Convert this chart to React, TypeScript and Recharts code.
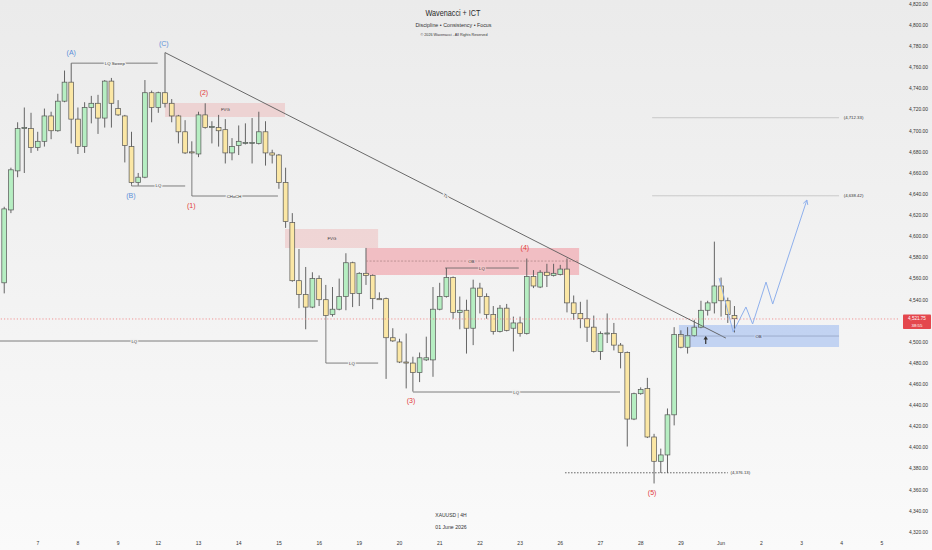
import React from 'react';
import {
  ComposedChart,
  Bar,
  Line,
  XAxis,
  YAxis,
  ReferenceLine,
  ReferenceArea,
  ReferenceDot,
} from 'recharts';

// ---------- data (XAUUSD 4H candles) ----------
const OPEN = [
  4556, 4625, 4662, 4702, 4702, 4684, 4690, 4714, 4700, 4728,
  4746, 4711, 4685, 4722, 4726, 4712, 4747, 4721, 4714, 4685,
  4651, 4656, 4736, 4722, 4736, 4726, 4714, 4699, 4680, 4678,
  4715, 4703, 4703, 4701, 4679, 4686, 4688, 4688, 4688, 4699,
  4679, 4677, 4651, 4613, 4558, 4545, 4533, 4560, 4540, 4526,
  4531, 4543, 4575, 4546, 4565, 4563, 4541, 4541, 4504, 4500,
  4481, 4480, 4471, 4483, 4483, 4531, 4543, 4561, 4528, 4530,
  4513, 4551, 4543, 4526, 4510, 4532, 4513, 4518, 4508, 4562,
  4552, 4566, 4563, 4564, 4569, 4537, 4527, 4522, 4514, 4491,
  4508, 4508, 4497, 4490, 4427, 4451, 4456, 4410, 4387, 4393,
  4431, 4507, 4495, 4506, 4514, 4530, 4537, 4553, 4539, 4525,
];
const HIGH = [
  4628, 4665, 4708, 4722, 4717, 4699, 4721, 4718, 4735, 4757,
  4764, 4722, 4727, 4733, 4734, 4748, 4750, 4729, 4715, 4699,
  4660, 4748, 4738, 4737, 4774, 4730, 4715, 4710, 4690, 4718,
  4726, 4709, 4715, 4711, 4693, 4705, 4707, 4712, 4718, 4709,
  4682, 4678, 4665, 4622, 4588, 4571, 4566, 4563, 4554, 4552,
  4560, 4584, 4576, 4566, 4589, 4564, 4547, 4542, 4513, 4503,
  4508, 4486, 4490, 4505, 4552, 4556, 4570, 4562, 4543, 4540,
  4559, 4556, 4546, 4534, 4535, 4536, 4524, 4524, 4579, 4568,
  4568, 4574, 4574, 4573, 4579, 4544, 4538, 4540, 4525, 4510,
  4527, 4518, 4499, 4491, 4452, 4457, 4466, 4413, 4399, 4437,
  4514, 4511, 4514, 4521, 4539, 4539, 4595, 4561, 4542, 4534,
];
const LOW = [
  4546, 4622, 4656, 4660, 4679, 4681, 4685, 4692, 4699, 4727,
  4688, 4678, 4679, 4707, 4697, 4703, 4703, 4714, 4670, 4649,
  4648, 4655, 4708, 4717, 4722, 4708, 4688, 4678, 4678, 4675,
  4702, 4688, 4685, 4669, 4672, 4677, 4687, 4669, 4687, 4667,
  4669, 4645, 4608, 4557, 4532, 4512, 4532, 4534, 4524, 4524,
  4530, 4530, 4533, 4534, 4554, 4531, 4540, 4465, 4500, 4480,
  4456, 4453, 4462, 4482, 4467, 4530, 4542, 4522, 4512, 4489,
  4497, 4527, 4522, 4507, 4509, 4510, 4491, 4505, 4507, 4551,
  4551, 4552, 4562, 4563, 4528, 4521, 4513, 4500, 4490, 4483,
  4499, 4492, 4475, 4401, 4426, 4450, 4409, 4366, 4376, 4376,
  4421, 4494, 4489, 4505, 4513, 4525, 4527, 4524, 4518, 4509,
];
const CLOSE = [
  4626, 4663, 4702, 4703, 4684, 4690, 4714, 4700, 4728, 4746,
  4711, 4685, 4722, 4726, 4712, 4747, 4726, 4715, 4686, 4651,
  4656, 4736, 4722, 4736, 4726, 4714, 4699, 4679, 4679, 4715,
  4703, 4704, 4700, 4679, 4685, 4690, 4689, 4689, 4699, 4679,
  4677, 4651, 4614, 4558, 4545, 4533, 4560, 4540, 4525, 4531,
  4543, 4575, 4546, 4565, 4563, 4541, 4540, 4504, 4501, 4481,
  4480, 4471, 4485, 4485, 4531, 4543, 4561, 4528, 4530, 4513,
  4551, 4543, 4526, 4510, 4532, 4511, 4518, 4508, 4562, 4553,
  4566, 4563, 4565, 4569, 4537, 4527, 4522, 4514, 4491, 4508,
  4508.5, 4497, 4490, 4427, 4451, 4455, 4410, 4387, 4393, 4431,
  4507, 4495, 4506, 4514, 4530, 4537, 4553, 4539, 4526, 4522,
];

// day boundaries (bar index of first 4H bar of each day) and their labels
const DAY_TICKS = [5, 11, 17, 23, 29, 35, 41, 47, 53, 59, 65, 71, 77, 83, 89, 95, 101, 107, 113, 119, 125, 131];
const DAY_LABELS = ['7', '8', '9', '12', '13', '14', '15', '16', '19', '20', '21', '22', '23', '26', '27', '28', '29', 'Jun', '2', '3', '4', '5'];

// price scale labels (4,520 is covered by the last-price tag)
const PRICE_TICKS = [
  4320, 4340, 4360, 4380, 4400, 4420, 4440, 4460, 4480, 4500, 4540, 4560,
  4580, 4600, 4620, 4640, 4660, 4680, 4700, 4720, 4740, 4760, 4780, 4800, 4820,
];

// projected path (blue zig-zag)
const PROJ_X = [106.7, 108.8, 110.7, 111.7, 113.7, 114.7, 119.8];
const PROJ_P = [4560.5, 4509.4, 4533.1, 4517.0, 4556.7, 4535.9, 4634.4];

const LAST_PRICE = 4521.75;
const COUNTDOWN = '38:55';
const SWING_LOW = 4376.13;
const TARGET_HIGH = 4712.33;
const TARGET_MID = 4638.42;

// ---------- layout ----------
const W = 932;
const H = 550;
const AXIS_W = 34;
const AXIS_H = 15;
const X_MIN = -0.64;
const X_MAX = 133.4;
const Y_MIN = 4317.2;
const Y_MAX = 4823.8;
const PX_PER_I = (W - AXIS_W) / (X_MAX - X_MIN);
const PX_PER_P = (H - AXIS_H) / (Y_MAX - Y_MIN);

const FONT = '"Liberation Sans", Arial, sans-serif';
const BG = '#f1f1f1';
const WICK = '#555555';
const UP_FILL = '#b6eec2';
const DOWN_FILL = '#fbe7a5';
const LINE = '#606060';
const BLUE_TXT = '#5b8fd9';
const RED_TXT = '#e23b3b';
const PROJ = '#8fb0ec';

const rows = OPEN.map((o, i) => ({
  i,
  o,
  h: HIGH[i],
  l: LOW[i],
  c: CLOSE[i],
  range: [LOW[i], HIGH[i]],
}));
const projRows = PROJ_X.map((x, j) => ({ i: x, p: PROJ_P[j] }));

const fmtPrice = (v: number) =>
  v.toLocaleString('en-US', { minimumFractionDigits: 2, maximumFractionDigits: 2 });

// ---------- renderers ----------
const Candle = (props: any) => {
  const { x, y, width, height, payload } = props;
  if (payload == null || height == null) return <g />;
  const { o, h, l, c } = payload;
  const ppu = height / Math.max(h - l, 0.0001);
  const cx = x + width / 2;
  const top = y + (h - Math.max(o, c)) * ppu;
  const bot = y + (h - Math.min(o, c)) * ppu;
  const up = c >= o;
  const bw = 4.8;
  return (
    <g>
      <line x1={cx} x2={cx} y1={y} y2={y + height} stroke={WICK} strokeWidth={0.9} />
      <rect
        x={cx - bw / 2}
        y={top}
        width={bw}
        height={Math.max(bot - top, 1)}
        fill={up ? UP_FILL : DOWN_FILL}
        stroke={WICK}
        strokeWidth={0.7}
      />
    </g>
  );
};

const XTick = (p: any) => {
  const idx = DAY_TICKS.indexOf(p.payload.value);
  return (
    <text x={p.x} y={545} textAnchor="middle" fontSize={5} fill="#333" fontFamily={FONT}>
      {idx >= 0 ? DAY_LABELS[idx] : ''}
    </text>
  );
};

const YTick = (p: any) => (
  <text x={928} y={p.y} dy={1.8} textAnchor="end" fontSize={4.9} fill="#333" fontFamily={FONT}>
    {fmtPrice(p.payload.value)}
  </text>
);

const center = (p: any) => {
  const vb = p.viewBox || p;
  return {
    cx: (vb.x ?? 0) + (vb.width ?? 0) / 2,
    cy: (vb.y ?? 0) + (vb.height ?? 0) / 2,
  };
};

type NoteOpts = {
  size?: number;
  color?: string;
  anchor?: 'start' | 'middle' | 'end';
  halo?: string | null;
  rotate?: number;
};

function note(key: string, x: number, y: number, text: string, o: NoteOpts = {}) {
  const { size = 4.3, color = '#333', anchor = 'middle', halo = null, rotate = 0 } = o;
  return (
    <ReferenceDot
      key={key}
      x={x}
      y={y}
      r={0}
      fill="none"
      stroke="none"
      ifOverflow="visible"
      label={(p: any) => {
        const { cx, cy } = center(p);
        return (
          <text
            x={cx}
            y={cy}
            dy="0.35em"
            textAnchor={anchor}
            fontSize={size}
            fill={color}
            fontFamily={FONT}
            stroke={halo || 'none'}
            strokeWidth={halo ? 2.4 : 0}
            paintOrder="stroke"
            transform={rotate ? `rotate(${rotate} ${cx} ${cy})` : undefined}
          >
            {text}
          </text>
        );
      }}
    />
  );
}

function seg(key: string, x1: number, y1: number, x2: number, y2: number, color = LINE, dash?: string, w = 0.8) {
  return (
    <ReferenceLine
      key={key}
      segment={[
        { x: x1, y: y1 },
        { x: x2, y: y2 },
      ]}
      stroke={color}
      strokeWidth={w}
      strokeDasharray={dash}
      ifOverflow="visible"
    />
  );
}

const ProjDot = (p: any) => {
  if (p.index !== PROJ_X.length - 1) return <g key={`pd${p.index}`} />;
  const ang = Math.atan2(
    -(PROJ_P[PROJ_P.length - 1] - PROJ_P[PROJ_P.length - 2]) * PX_PER_P,
    (PROJ_X[PROJ_X.length - 1] - PROJ_X[PROJ_X.length - 2]) * PX_PER_I,
  );
  const L = 5;
  const s = 0.5;
  const x1 = p.cx - L * Math.cos(ang - s);
  const y1 = p.cy - L * Math.sin(ang - s);
  const x2 = p.cx - L * Math.cos(ang + s);
  const y2 = p.cy - L * Math.sin(ang + s);
  return (
    <path
      key="arrowhead"
      d={`M${x1},${y1}L${p.cx},${p.cy}L${x2},${y2}`}
      stroke={PROJ}
      strokeWidth={1}
      fill="none"
    />
  );
};

const PriceTag = (p: any) => {
  const vb = p.viewBox || {};
  const right = (vb.x ?? 0) + (vb.width ?? 0);
  const ly = vb.y ?? 0;
  const bx = right + 5;
  return (
    <g>
      <rect x={bx} y={ly - 4.5} width={28} height={14.5} fill="#e4474d" rx={0.8} />
      <text x={bx + 14} y={ly + 1.3} textAnchor="middle" fontSize={4.6} fill="#fff" fontFamily={FONT}>
        {fmtPrice(LAST_PRICE)}
      </text>
      <text x={bx + 14} y={ly + 8} textAnchor="middle" fontSize={4.3} fill="#fff" fontFamily={FONT}>
        {COUNTDOWN}
      </text>
    </g>
  );
};

const UpArrow = (p: any) => {
  const { cx, cy } = center(p);
  return (
    <g>
      <line x1={cx} x2={cx} y1={cy + 4} y2={cy - 1} stroke="#333" strokeWidth={1.2} />
      <path d={`M${cx - 2.2},${cy - 0.5}L${cx},${cy - 4}L${cx + 2.2},${cy - 0.5}Z`} fill="#333" />
    </g>
  );
};

export default function App() {
  const TL_ANGLE = (Math.atan2((4774 - 4503.7) * PX_PER_P, (107.7 - 24) * PX_PER_I) * 180) / Math.PI;
  return (
    <div
      style={{
        position: 'absolute',
        left: 0,
        top: 0,
        width: W,
        height: H,
        background: 'linear-gradient(#ebebeb 0%, #f3f3f3 55%, #fafafa 100%)',
        fontFamily: FONT,
        overflow: 'hidden',
      }}
    >
      <ComposedChart width={W} height={H} data={rows} margin={{ top: 0, right: 0, bottom: 0, left: 0 }}>
        <XAxis
          dataKey="i"
          type="number"
          domain={[X_MIN, X_MAX]}
          allowDataOverflow
          ticks={DAY_TICKS}
          interval={0}
          tick={XTick}
          axisLine={false}
          tickLine={false}
          height={AXIS_H}
        />
        <YAxis
          type="number"
          orientation="right"
          domain={[Y_MIN, Y_MAX]}
          allowDataOverflow
          ticks={PRICE_TICKS}
          interval={0}
          tick={YTick}
          axisLine={false}
          tickLine={false}
          width={AXIS_W}
        />

        {/* zones */}
        <ReferenceArea x1={24.0} x2={41.9} y1={4713} y2={4726.2} fill="#ec9a9a" fillOpacity={0.32} stroke="none" ifOverflow="visible" />
        <ReferenceArea x1={41.9} x2={55.8} y1={4589} y2={4607} fill="#ec9a9a" fillOpacity={0.32} stroke="none" ifOverflow="visible" />
        <ReferenceArea x1={54.0} x2={85.8} y1={4563.4} y2={4589} fill="#f07882" fillOpacity={0.42} stroke="none" ifOverflow="visible" />
        <ReferenceArea x1={100.7} x2={124.6} y1={4495.2} y2={4516} fill="#94b4f0" fillOpacity={0.52} stroke="none" ifOverflow="visible" />

        {/* current price */}
        <ReferenceLine y={LAST_PRICE} stroke="#f08a8a" strokeWidth={0.9} strokeDasharray="1.2 2" label={PriceTag} ifOverflow="visible" />

        <Bar dataKey="range" barSize={5} shape={Candle} isAnimationActive={false} />

        {/* structure lines */}
        {seg('lqsweep', 10, 4764, 22.9, 4764)}
        {seg('lqb-v', 19, 4649, 19, 4647.7)}
        {seg('lqb', 19, 4647.7, 27, 4647.7)}
        {seg('choch-v', 28, 4678, 28, 4638.2)}
        {seg('choch', 28, 4638.2, 40.85, 4638.2)}
        {seg('tl', 24, 4774, 107.7, 4503.7, '#5a5a5a', undefined, 0.9)}
        {seg('lqlong', X_MIN, 4500.9, 46.8, 4500.9)}
        {seg('lq325-v', 48, 4524, 48, 4480)}
        {seg('lq325', 48, 4480, 55.8, 4480)}
        {seg('lq3', 61, 4452.6, 91.9, 4452.6)}
        {seg('ob-mid', 54, 4576.6, 85.8, 4576.6, '#a98080', '2 1.5', 0.7)}
        {seg('lq-ob', 65.8, 4570, 76.8, 4570)}
        {seg('swinglow', 83.7, SWING_LOW, 108, SWING_LOW, '#555', '1.5 1.5', 0.9)}
        {seg('t1', 96.7, TARGET_HIGH, 124.6, TARGET_HIGH, '#b8b8b8', undefined, 0.7)}
        {seg('t2', 96.7, TARGET_MID, 124.6, TARGET_MID, '#b8b8b8', undefined, 0.7)}
        {seg('ob-blue', 100.7, 4505.6, 124.6, 4505.6, '#8d9cbc', undefined, 0.7)}

        {/* projection */}
        <Line
          data={projRows}
          dataKey="p"
          type="linear"
          stroke={PROJ}
          strokeWidth={1}
          dot={ProjDot}
          activeDot={false}
          isAnimationActive={false}
        />

        {/* labels */}
        {note('n-lqs', 16.5, 4764, 'LQ Sweep', { halo: BG })}
        {note('n-lqb', 23, 4647.7, 'LQ', { halo: BG })}
        {note('n-choch', 34.3, 4638.2, 'CHoCH', { halo: BG })}
        {note('n-fvg1', 33, 4720, 'FVG')}
        {note('n-fvg2', 48.9, 4597.5, 'FVG')}
        {note('n-ob', 69.7, 4576.6, 'OB', { halo: '#f2c6c9' })}
        {note('n-lqob', 71.3, 4570, 'LQ', { halo: '#f2c6c9' })}
        {note('n-tl', 65.9, 4638.3, 'TL', { halo: BG, rotate: TL_ANGLE, size: 4.2 })}
        {note('n-lqlong', 19.4, 4500.9, 'LQ', { halo: BG })}
        {note('n-lq325', 51.9, 4480, 'LQ', { halo: BG })}
        {note('n-lq3', 76.4, 4452.6, 'LQ', { halo: BG })}
        {note('n-low', 108.4, SWING_LOW, `(${fmtPrice(SWING_LOW)})`, { anchor: 'start' })}
        {note('n-t1', 125.3, TARGET_HIGH, `(${fmtPrice(TARGET_HIGH)})`, { anchor: 'start' })}
        {note('n-t2', 125.3, TARGET_MID, `(${fmtPrice(TARGET_MID)})`, { anchor: 'start' })}
        {note('n-obb', 112.6, 4505.6, 'OB', { halo: '#c6d4f2' })}

        {note('w-a', 10, 4773.6, '(A)', { size: 7, color: BLUE_TXT })}
        {note('w-b', 18.9, 4638.2, '(B)', { size: 7, color: BLUE_TXT })}
        {note('w-c', 23.8, 4782.1, '(C)', { size: 7, color: BLUE_TXT })}
        {note('w-1', 27.9, 4628.7, '(1)', { size: 7, color: RED_TXT })}
        {note('w-2', 29.8, 4735.7, '(2)', { size: 7, color: RED_TXT })}
        {note('w-3', 60.7, 4444.1, '(3)', { size: 7, color: RED_TXT })}
        {note('w-4', 77.7, 4589.5, '(4)', { size: 7, color: RED_TXT })}
        {note('w-5', 96.7, 4357.2, '(5)', { size: 7, color: RED_TXT })}

        <ReferenceDot x={104.7} y={4501.8} r={0} fill="none" stroke="none" ifOverflow="visible" label={UpArrow} />
      </ComposedChart>

      <svg
        width={W}
        height={H}
        style={{ position: 'absolute', left: 0, top: 0, pointerEvents: 'none' }}
      >
        <text x={453} y={15.5} textAnchor="middle" fontSize={8.6} fill="#2a2a2a" fontFamily={FONT} textLength={55} lengthAdjust="spacingAndGlyphs">
          Wavenacci + ICT
        </text>
        <text x={453.5} y={27} textAnchor="middle" fontSize={5.6} fill="#333" fontFamily={FONT} textLength={76} lengthAdjust="spacingAndGlyphs">
          Discipline • Consistency • Focus
        </text>
        <text x={454} y={35.5} textAnchor="middle" fontSize={3.6} fill="#333" fontFamily={FONT} textLength={67} lengthAdjust="spacingAndGlyphs">
          © 2026 Wavenacci - All Rights Reserved
        </text>
        <text x={451} y={517} textAnchor="middle" fontSize={5} fill="#333" fontFamily={FONT}>
          XAUUSD | 4H
        </text>
        <text x={451} y={529} textAnchor="middle" fontSize={5.2} fill="#333" fontFamily={FONT}>
          01 June 2026
        </text>
      </svg>
    </div>
  );
}
